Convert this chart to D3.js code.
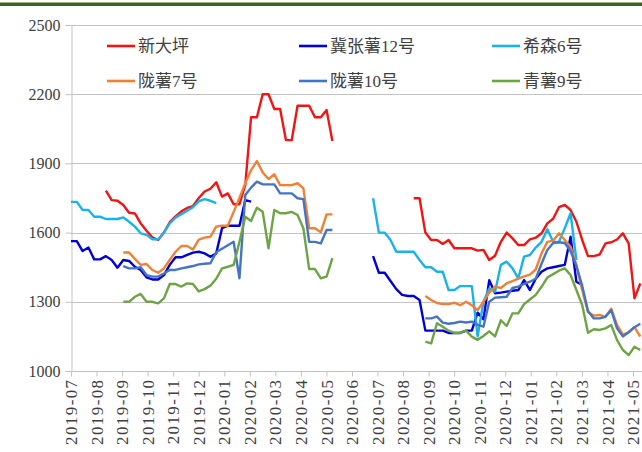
<!DOCTYPE html>
<html><head><meta charset="utf-8">
<script src="https://cdn.jsdelivr.net/npm/d3@7"></script>
<style>
html,body{margin:0;padding:0;background:#fff;}
svg{display:block;}
</style></head>
<body>
<svg id="chart" width="642" height="452"></svg>
<script>
// ---------- DATA ----------
const monthLabels = ["2019-07","2019-08","2019-09","2019-10","2019-11","2019-12","2020-01","2020-02","2020-03","2020-04","2020-05","2020-06","2020-07","2020-08","2020-09","2020-10","2020-11","2020-12","2021-01","2021-02","2021-03","2021-04","2021-05"];
const yTicks = [1000,1300,1600,1900,2200,2500];
const seriesNames = ["新大坪","冀张薯12号","希森6号","陇薯7号","陇薯10号","青薯9号"];

// weekly prices; each segment starts at a given week index (week 0 = first week of 2019-07)
const xinDaPing_2019 = [1782,1741,1738,1720,1686,1683,1640,1608,1580,1568,1600,1645,1670,1692,1707,1715,1750,1778,1790,1818,1756,1770,1723,1723,1806,2100,2100,2200,2200,2136,2136,2001,2001,2150,2150,2150,2100,2100,2131,1997];
const xinDaPing_2020 = [1749,1749,1600,1568,1568,1551,1568,1532,1532,1532,1532,1522,1525,1481,1500,1560,1600,1575,1546,1546,1571,1578,1597,1640,1660,1710,1720,1698,1647,1568,1498,1498,1505,1553,1558,1570,1597,1553,1315,1380];
const jiZhang12_2019 = [1563,1563,1520,1535,1484,1484,1498,1481,1448,1481,1477,1452,1438,1406,1397,1397,1416,1460,1493,1493,1503,1513,1517,1510,1495,1510,1619,1630,1630,1630,1741,1734];
const jiZhang12_2020 = [1498,1426,1426,1390,1355,1330,1325,1325,1308,1175,1175,1175,1175,1165,1165,1165,1175,1175,1253,1224,1394,1337,1340,1344,1348,1351,1394,1351,1400,1430,1445,1450,1455,1460,1582,1387,1373];
const xiSen6_2019 = [1733,1733,1698,1698,1669,1669,1659,1659,1659,1666,1647,1626,1597,1590,1571,1571,1600,1640,1665,1680,1695,1710,1735,1745,1738,1728];
const xiSen6_2020 = [1749,1600,1600,1568,1517,1517,1517,1517,1481,1450,1450,1430,1430,1351,1351,1368,1368,1368,1150,1300,1358,1344,1460,1474,1445,1402,1496,1503,1535,1560,1614,1560,1560,1619,1684,1481];
const longShu7_2019 = [1514,1514,1486,1460,1464,1438,1426,1445,1481,1517,1542,1542,1527,1570,1578,1582,1626,1630,1630,1690,1750,1814,1871,1910,1861,1832,1853,1806,1806,1806,1814,1792,1619,1619,1601,1679,1679];
const longShu7_2020 = [1325,1308,1295,1290,1290,1296,1285,1300,1285,1264,1300,1340,1366,1360,1380,1390,1400,1410,1418,1440,1510,1560,1565,1597,1568,1539,1460,1350,1255,1240,1243,1235,1270,1200,1158,1168,1190,1149];
const longShu10_2019 = [1455,1445,1445,1450,1416,1409,1409,1423,1438,1438,1445,1450,1455,1462,1465,1467,1515,1530,1545,1560,1402,1763,1795,1821,1809,1809,1809,1770,1770,1770,1749,1745,1560,1560,1553,1611,1611];
const longShu10_2020 = [1228,1228,1236,1210,1205,1208,1214,1210,1214,1200,1192,1300,1318,1320,1322,1360,1366,1378,1387,1400,1465,1525,1555,1558,1555,1520,1455,1370,1260,1228,1228,1235,1264,1185,1150,1168,1190,1205];
const qingShu9_2019 = [1300,1300,1322,1334,1300,1300,1293,1315,1377,1377,1366,1380,1377,1345,1355,1370,1400,1445,1452,1460,1560,1669,1650,1708,1690,1532,1698,1684,1684,1690,1676,1619,1442,1442,1402,1409,1489];
const qingShu9_2020 = [1127,1120,1207,1192,1175,1165,1166,1175,1149,1135,1152,1172,1150,1220,1195,1250,1250,1290,1310,1330,1365,1405,1420,1435,1445,1416,1351,1286,1166,1181,1178,1185,1199,1134,1091,1069,1105,1091];

const segmentStarts = {
  "新大坪": [6, 59], "冀张薯12号": [0, 52], "希森6号": [0, 52],
  "陇薯7号": [9, 61], "陇薯10号": [9, 61], "青薯9号": [9, 61]
};
const seriesValues = {
  "新大坪": [xinDaPing_2019, xinDaPing_2020],
  "冀张薯12号": [jiZhang12_2019, jiZhang12_2020],
  "希森6号": [xiSen6_2019, xiSen6_2020],
  "陇薯7号": [longShu7_2019, longShu7_2020],
  "陇薯10号": [longShu10_2019, longShu10_2020],
  "青薯9号": [qingShu9_2019, qingShu9_2020]
};

// ---------- STYLE ----------
const colors = {"新大坪":"#f01414","冀张薯12号":"#0000d2","希森6号":"#1ab2ea","陇薯7号":"#ef8137","陇薯10号":"#4673c2","青薯9号":"#6ea346"};
const WEEK_IN_MONTHS = 0.2274;
const serif = "'Liberation Serif','Noto Sans CJK SC',serif";
const gridColor = "#c3c3c3";
const textColor = "#404040";

const svg = d3.select("#chart");
svg.append("rect").attr("x",0).attr("y",0).attr("width",642).attr("height",452).attr("fill","#fff");
svg.append("rect").attr("x",0).attr("y",2.5).attr("width",642).attr("height",3.5).attr("fill","#3e6127");

const x = d3.scaleLinear().domain([0, 22]).range([71, 633]);
const y = d3.scaleLinear().domain([1000, 2500]).range([371, 25]);

// gridlines
svg.append("g").selectAll("line").data(yTicks.filter(v => v > 1000)).join("line")
  .attr("x1", 71).attr("x2", 642)
  .attr("y1", d => Math.round(y(d)) + 0.5).attr("y2", d => Math.round(y(d)) + 0.5)
  .attr("stroke", gridColor).attr("stroke-width", 1);

// y axis
const yAxis = svg.append("g").attr("transform", "translate(71.5,0)")
  .call(d3.axisLeft(y).tickValues(yTicks).tickSize(6).tickPadding(5).tickFormat(d3.format("d")));
yAxis.select(".domain").attr("stroke", gridColor);
yAxis.selectAll(".tick line").attr("stroke", gridColor);
yAxis.selectAll("text").attr("font-family", serif).attr("font-size", 16).attr("fill", textColor);

// x axis
const xAxis = svg.append("g").attr("transform", "translate(0,371.5)")
  .call(d3.axisBottom(x).tickValues(d3.range(monthLabels.length)).tickSize(5).tickFormat(i => monthLabels[i]));
xAxis.select(".domain").attr("stroke", gridColor).attr("d", "M71,0H642");
xAxis.selectAll(".tick line").attr("stroke", gridColor);
xAxis.selectAll("text")
  .attr("font-family", serif).attr("font-size", 17).attr("fill", textColor)
  .attr("letter-spacing", 1.4)
  .attr("transform", "rotate(-90)")
  .attr("text-anchor", "end")
  .attr("x", -7).attr("y", 0).attr("dy", "0.33em");

// lines
const line = d3.line()
  .x(d => x(d.week * WEEK_IN_MONTHS))
  .y(d => y(d.value));

const lg = svg.append("g");
seriesNames.forEach(name => {
  seriesValues[name].forEach((vals, s) => {
    const start = segmentStarts[name][s];
    const pts = vals.map((v, k) => ({week: start + k, value: v}));
    lg.append("path").datum(pts)
      .attr("d", line)
      .attr("fill", "none")
      .attr("stroke", colors[name])
      .attr("stroke-width", 2.4)
      .attr("stroke-linejoin", "round");
  });
});

// legend
const legendPos = [[107,46],[299,46],[492,46],[107,81],[299,81],[492,81]];
const legendOrder = ["新大坪","冀张薯12号","希森6号","陇薯7号","陇薯10号","青薯9号"];
const leg = svg.append("g");
legendOrder.forEach((name, k) => {
  const [lx, ly] = legendPos[k];
  leg.append("line").attr("x1", lx).attr("x2", lx + 28).attr("y1", ly).attr("y2", ly)
    .attr("stroke", colors[name]).attr("stroke-width", 2.6);
  leg.append("text").attr("x", lx + 31).attr("y", ly).attr("dy", "0.36em")
    .attr("font-family", serif).attr("font-size", 17).attr("fill", textColor)
    .text(name);
});
</script>
</body></html>
